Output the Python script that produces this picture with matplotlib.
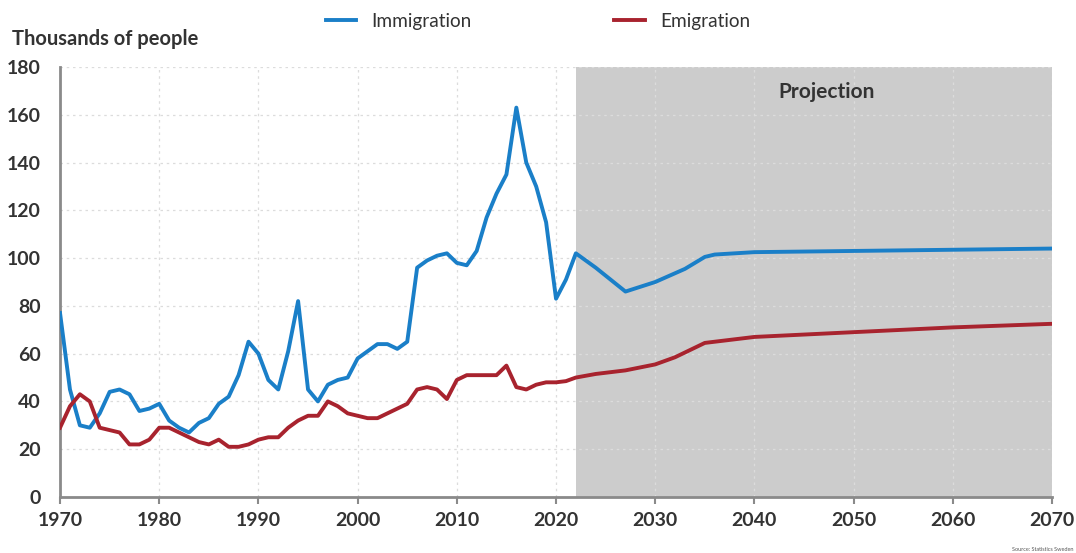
import matplotlib.pyplot as plt

# Immigration / emigration, Sweden (thousands of people), actual + projection
imm_years = list(range(1970, 2023)) + [2024, 2027, 2030, 2033, 2035, 2036, 2040, 2050, 2060, 2070]
immigration = [77, 45, 30, 29, 35, 44, 45, 43, 36, 37,
               39, 32, 29, 27, 31, 33, 39, 42, 51, 65,
               60, 49, 45, 61, 82, 45, 40, 47, 49, 50,
               58, 61, 64, 64, 62, 65, 96, 99, 101, 102,
               98, 97, 103, 117, 127, 135, 163, 140, 130, 115,
               83, 91, 102, 96, 86, 90, 95.5, 100.5, 101.5, 102.5, 103, 103.5, 104]

emi_years = list(range(1970, 2023)) + [2024, 2027, 2030, 2032, 2035, 2037, 2040, 2050, 2060, 2070]
emigration = [29, 38, 43, 40, 29, 28, 27, 22, 22, 24,
              29, 29, 27, 25, 23, 22, 24, 21, 21, 22,
              24, 25, 25, 29, 32, 34, 34, 40, 38, 35,
              34, 33, 33, 35, 37, 39, 45, 46, 45, 41,
              49, 51, 51, 51, 51, 55, 46, 45, 47, 48,
              48, 48.5, 50, 51.5, 53, 55.5, 58.5, 64.5, 65.5, 67, 69, 71, 72.5]

projection_start = 2022
blue = "#1a7fc8"
red = "#a8232e"

plt.rcParams['font.family'] = ['Lato', 'DejaVu Sans']

fig = plt.figure(figsize=(10.76, 5.53), dpi=100)
ax = fig.add_axes([0.0558, 0.1013, 0.9219, 0.7775])

ax.axvspan(projection_start, 2070, color="#cccccc", zorder=0.1, lw=0)
ax.plot(imm_years, immigration, color=blue, lw=2.8, solid_joinstyle="round", label="Immigration", zorder=3)
ax.plot(emi_years, emigration, color=red, lw=2.8, solid_joinstyle="round", label="Emigration", zorder=3)

ax.set_xlim(1970, 2070)
ax.set_ylim(0, 180)
ax.set_xticks(range(1970, 2071, 10))
ax.set_yticks(range(0, 181, 20))
ax.set_axisbelow(True)
ax.grid(True, color="#dcdcdc", linestyle=(0, (2, 3)), linewidth=0.9)

for s in ["top", "right"]:
    ax.spines[s].set_visible(False)
for s in ["left", "bottom"]:
    ax.spines[s].set_color("#8a8a8a")
    ax.spines[s].set_linewidth(2)
ax.tick_params(axis="y", length=0, pad=14, labelsize=14, labelcolor="#333333")
ax.tick_params(axis="x", length=5, width=1.5, color="#8a8a8a", pad=6, labelsize=14, labelcolor="#333333")
for lab in ax.get_xticklabels() + ax.get_yticklabels():
    lab.set_fontweight("bold")

ax.text(2047.3, 169.5, "Projection", ha="center", va="center", fontsize=15, fontweight="bold", color="#333333")
fig.text(0.011, 0.929, "Thousands of people", ha="left", va="center", fontsize=14.5, fontweight="bold", color="#333333")
fig.text(0.998, 0.002, "Source: Statistics Sweden", ha="right", va="bottom", fontsize=4, color="#555555")

fig.legend(loc="center", bbox_to_anchor=(0.5, 0.962), ncol=2, frameon=False, fontsize=13.7,
           handlelength=1.6, columnspacing=7.5, labelcolor="#333333")

fig.savefig("out.png", dpi=100)
